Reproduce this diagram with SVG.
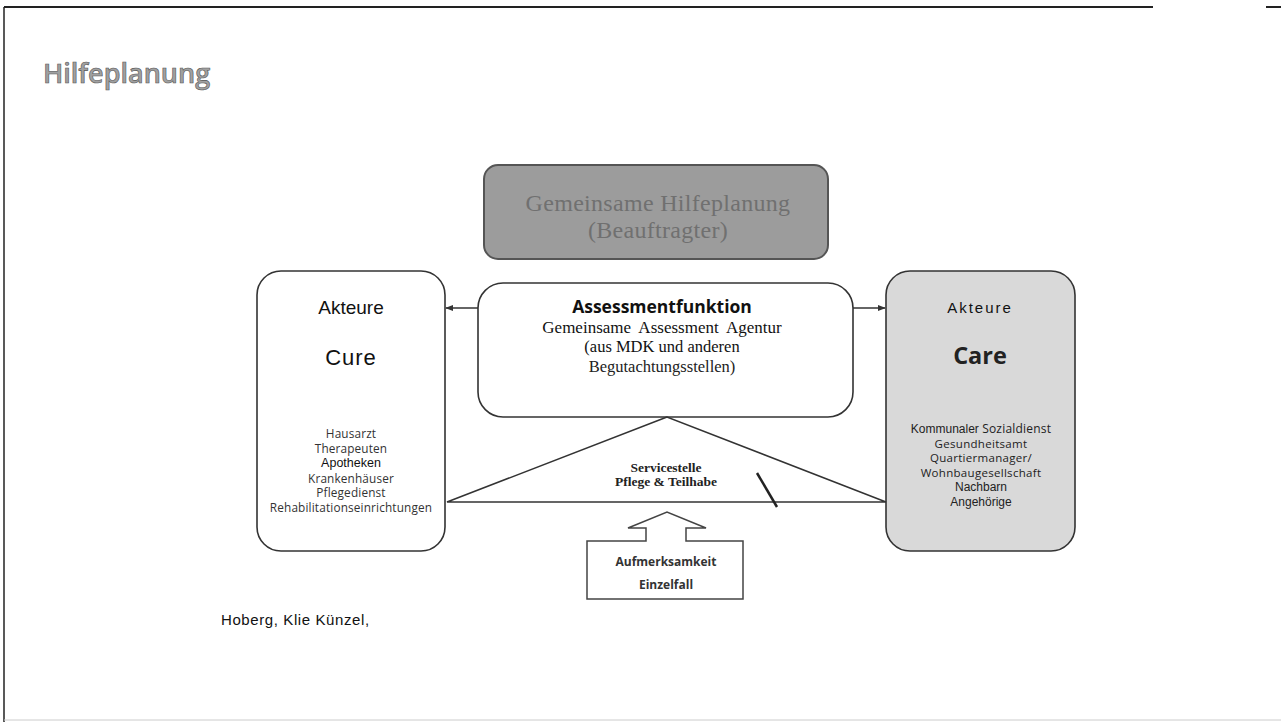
<svg xmlns="http://www.w3.org/2000/svg" width="1281" height="722" viewBox="0 0 1281 722">
<defs>
<style>
.sans{font-family:"Liberation Sans",Arial,sans-serif}
.cal{font-family:"Open Sans","Liberation Sans",sans-serif}
.serif{font-family:"Liberation Serif","Times New Roman",serif}
.box{stroke:#333;stroke-width:1.6}
.line{stroke:#333;stroke-width:1.5;fill:none}
</style>
<marker id="ah" viewBox="0 0 10 10" refX="9" refY="5" markerWidth="8" markerHeight="8" markerUnits="userSpaceOnUse" orient="auto">
<path d="M0,1 L10,5 L0,9 Z" fill="#333"/>
</marker>
</defs>
<rect width="1281" height="722" fill="#fff"/>
<g id="frame">
<line x1="4" y1="7" x2="1153" y2="7" stroke="#222" stroke-width="2"/>
<line x1="1266" y1="7" x2="1281" y2="7" stroke="#222" stroke-width="2"/>
<line x1="4" y1="7" x2="4" y2="722" stroke="#222" stroke-width="1.5"/>
<line x1="4" y1="720" x2="1281" y2="720" stroke="#ccc" stroke-width="1"/>
</g>
<text x="43" y="83" class="cal" font-size="27" font-weight="600" fill="#a0a0a0" stroke="#555" stroke-width="0.6">Hilfeplanung</text>
<g id="hilfeplanung">
<rect x="484" y="165" width="344" height="94" rx="14" fill="#9c9c9c" stroke="#555" stroke-width="2"/>
<text x="658" y="211" class="serif" font-size="24" letter-spacing="0.3" fill="#707070" text-anchor="middle">Gemeinsame Hilfeplanung</text>
<text x="658" y="238" class="serif" font-size="24" letter-spacing="0.3" fill="#707070" text-anchor="middle">(Beauftragter)</text>
</g>
<g id="cure">
<rect x="257" y="271" width="188" height="280" rx="24" fill="#fff" class="box"/>
<text x="351" y="314" class="sans" font-size="19" fill="#111" text-anchor="middle">Akteure</text>
<text x="351" y="365" class="sans" font-size="22" fill="#111" text-anchor="middle" letter-spacing="1">Cure</text>
<g class="cal" font-size="11.8" letter-spacing="0.15" fill="#333" text-anchor="middle">
<text x="351" y="438">Hausarzt</text>
<text x="351" y="453">Therapeuten</text>
<text x="351" y="467" class="sans" font-size="12.5" letter-spacing="0" fill="#111">Apotheken</text>
<text x="351" y="483">Krankenhäuser</text>
<text x="351" y="497">Pflegedienst</text>
<text x="351" y="512">Rehabilitationseinrichtungen</text>
</g>
</g>
<g id="assessment">
<rect x="478" y="283" width="375" height="134" rx="25" fill="#fff" class="box"/>
<text x="662" y="313" class="cal" font-size="17.5" font-weight="bold" fill="#111" text-anchor="middle">Assessmentfunktion</text>
<text x="662" y="333" class="serif" font-size="17" fill="#111" text-anchor="middle" word-spacing="4">Gemeinsame Assessment Agentur</text>
<text x="662" y="352" class="serif" font-size="16.5" fill="#111" text-anchor="middle">(aus MDK und anderen</text>
<text x="662" y="372" class="serif" font-size="16.5" fill="#222" text-anchor="middle">Begutachtungsstellen)</text>
</g>
<g id="care">
<rect x="886" y="271" width="189" height="280" rx="24" fill="#d9d9d9" class="box"/>
<text x="980" y="313" class="sans" font-size="15" fill="#111" text-anchor="middle" letter-spacing="2">Akteure</text>
<text x="980" y="364" class="cal" font-size="23.5" font-weight="bold" fill="#222" text-anchor="middle">Care</text>
<g font-size="11.5" letter-spacing="0.3" fill="#222" text-anchor="middle">
<text x="981" y="433" class="sans" font-size="12" letter-spacing="0">Kommunaler <tspan class="cal" font-size="12" letter-spacing="0.2">Sozialdienst</tspan></text>
<text x="981" y="447.6" class="cal">Gesundheitsamt</text>
<text x="981" y="462.2" class="cal">Quartiermanager/</text>
<text x="981" y="476.8" class="cal">Wohnbaugesellschaft</text>
<text x="981" y="491.4" class="sans" font-size="12" letter-spacing="0">Nachbarn</text>
<text x="981" y="506" class="sans" font-size="12" letter-spacing="0">Angehörige</text>
</g>
</g>
<g id="servicestelle">
<polygon points="667,417 447,502 886,502" fill="#fff" class="line"/>
<text x="666" y="472" class="serif" font-size="13.5" font-weight="bold" fill="#222" text-anchor="middle">Servicestelle</text>
<text x="666" y="486" class="serif" font-size="13.5" font-weight="bold" fill="#222" text-anchor="middle">Pflege &amp; Teilhabe</text>
<line x1="757" y1="473" x2="777" y2="507" stroke="#222" stroke-width="2.5"/>
</g>
<g id="aufmerksamkeit">
<polygon points="587,541 646,541 646,528 628,528 667,512 706,528 686,528 686,541 743,541 743,599 587,599" fill="#fff" stroke="#444" stroke-width="1.5"/>
<text x="666" y="566" class="cal" font-size="12" font-weight="bold" fill="#333" text-anchor="middle">Aufmerksamkeit</text>
<text x="666" y="589" class="cal" font-size="12" font-weight="bold" fill="#333" text-anchor="middle">Einzelfall</text>
</g>
<g id="connectors">
<line x1="478" y1="308" x2="446" y2="308" class="line" marker-end="url(#ah)"/>
<line x1="853" y1="308" x2="885" y2="308" class="line" marker-end="url(#ah)"/>
</g>
<text x="221" y="625" class="sans" font-size="15" letter-spacing="0.6" fill="#111">Hoberg, Klie Künzel,</text>
</svg>
